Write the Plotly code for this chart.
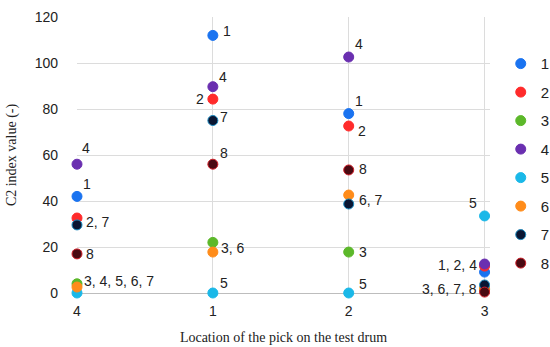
import plotly.graph_objects as go

categories = ["4", "1", "2", "3"]
series_names = ["1", "2", "3", "4", "5", "6", "7", "8"]
colors = ["#1a73f0", "#ff2b2b", "#5cb82a", "#6a2fb0", "#1ab8e8", "#ff8c1a", "#0a1633", "#4a0a12"]
outlines = ["#1a73f0", "#ff2b2b", "#5cb82a", "#6a2fb0", "#1ab8e8", "#ff8c1a", "#1a8ac0", "#d0202a"]

# values per series at categories 4, 1, 2, 3
s1 = [42, 112, 78, 9.1]
s2 = [32.6, 84.3, 72.6, 11.7]
s3 = [4, 22, 17.8, 1.5]
s4 = [56, 89.7, 102.6, 12.6]
s5 = [0, 0, 0, 33.5]
s6 = [2.6, 17.8, 42.6, 2]
s7 = [29.6, 75, 38.7, 3.5]
s8 = [17, 56, 53.5, 0.4]
values = [s1, s2, s3, s4, s5, s6, s7, s8]

# point labels: (category, anchor y value, text, xshift, yshift, xanchor)
label_cat = ["4", "4", "4", "4", "4",
             "1", "1", "1", "1", "1", "1", "1",
             "2", "2", "2", "2", "2", "2", "2",
             "3", "3", "3"]
label_y = [56, 42, 31.1, 17, 4,
           112, 89.7, 84.3, 75, 56, 19.9, 0,
           102.6, 78, 72.6, 53.5, 40.6, 17.8, 0,
           33.5, 11.7, 1.5]
label_text = ["4", "1", "2, 7", "8", "3, 4, 5, 6, 7",
              "1", "4", "2", "7", "8", "3, 6", "5",
              "4", "1", "2", "8", "6, 7", "3", "5",
              "5", "1, 2, 4", "3, 6, 7, 8"]
label_dx = [3, 4, 7, 7, 5,
            8, 4, -7, 5, 5, 6, 5,
            4, 4, 7, 8, 8, 8, 8,
            -12, -6, -6]
label_dy = [16, 12, -1, 0, 3,
            4, 10, 0, 4, 11, -1, 10,
            13, 13, -5, 1, 0, 0, 9,
            13, 1, 1]
label_anchor = ["left", "left", "left", "left", "left",
                "left", "left", "right", "left", "left", "left", "left",
                "left", "left", "left", "left", "left", "left", "left",
                "center", "right", "right"]

fig = go.Figure()
for i, name in enumerate(series_names):
    fig.add_trace(go.Scatter(
        x=categories, y=values[i], mode="markers", name=name,
        legendgroup=name,
        marker=dict(size=10, color=colors[i], line=dict(color=outlines[i], width=1)),
        cliponaxis=False,
    ))

for c, yv, t, dx, dy, xa in zip(label_cat, label_y, label_text, label_dx, label_dy, label_anchor):
    fig.add_annotation(x=categories.index(c), y=yv, text=t, showarrow=False,
                       xanchor=xa, yanchor="middle", xshift=dx, yshift=dy,
                       font=dict(family="Liberation Sans", size=14, color="#222222"))

fig.update_layout(
    width=550, height=347,
    margin=dict(l=77, r=60, t=17, b=54, autoexpand=False),
    paper_bgcolor="white", plot_bgcolor="white",
    showlegend=True,
    legend=dict(x=1.026, y=0.89, xanchor="left", yanchor="top",
                font=dict(family="Liberation Sans", size=15, color="#222222"),
                tracegroupgap=6, itemwidth=30),
    xaxis=dict(type="category", categoryorder="array", categoryarray=categories,
               range=[0, 3.04], showgrid=True, gridcolor="#dcdcdc", gridwidth=1,
               zeroline=False, showline=False, automargin=False,
               tickfont=dict(family="Liberation Sans", size=14, color="#222222"),
               ticklabelstandoff=8,
               title=dict(text="Location of the pick on the test drum",
                          font=dict(family="Liberation Serif", size=14, color="#222222"),
                          standoff=14)),
    yaxis=dict(range=[0, 120], dtick=20, showgrid=True, gridcolor="#dcdcdc", gridwidth=1,
               zeroline=True, zerolinecolor="#bdbdbd", zerolinewidth=1, showline=False,
               automargin=False,
               tickfont=dict(family="Liberation Sans", size=14, color="#222222"),
               ticklabelstandoff=18,
               title=dict(text="C2 index value (-)",
                          font=dict(family="Liberation Serif", size=14, color="#222222"),
                          standoff=14)),
)

fig.write_html("out.html", config={"displayModeBar": False},
               post_script="document.body.style.margin='0px';")
